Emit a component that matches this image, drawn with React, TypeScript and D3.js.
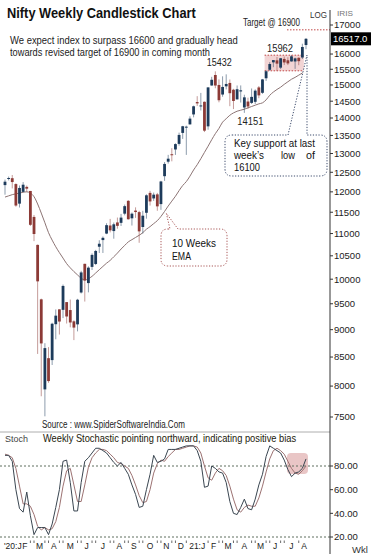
import * as d3 from "d3";
import { useLayoutEffect, useRef, useState } from "react";

// weekly Nifty candles, week ending 10 Jan 2020 .. 13 Aug 2021
const open = [12170, 12329, 12347, 12197, 11708, 12000, 12125, 12022, 11388, 10742, 9588, 7945, 8480, 8446, 9103, 9390, 9380, 9533, 9376, 9158, 9100, 9726, 10326, 9919, 10260, 10323, 10701, 10851, 10999, 11186, 11057, 11258, 11248, 11466, 11777, 11355, 11540, 11503, 11151, 11487, 11974, 11836, 11937, 11697, 12399, 12780, 12980, 13110, 13264, 13571, 13742, 13815, 14105, 14474, 14371, 14482, 13758, 14983, 15315, 15000, 14703, 14957, 15063, 14851, 14555, 14798, 14311, 14490, 14449, 14481, 14923, 14756, 15211, 15483, 15725, 15791, 15552, 15837, 15793, 15755, 15754, 15874, 15885, 16304];
const high = [12311, 12389, 12430, 12216, 12160, 12247, 12159, 12023, 11434, 10751, 9602, 8749, 8678, 9131, 9388, 9390, 9889, 9533, 9584, 9178, 9598, 10177, 10328, 10272, 10553, 10631, 10847, 10933, 11239, 11341, 11256, 11373, 11460, 11686, 11794, 11493, 11618, 11535, 11535, 11939, 12025, 11982, 11974, 12280, 12770, 12963, 13146, 13280, 13579, 13773, 13777, 14049, 14367, 14653, 14753, 14491, 14925, 15257, 15432, 15176, 15273, 15336, 15172, 14879, 14984, 14985, 14697, 14607, 14890, 14863, 14967, 15189, 15469, 15733, 15800, 15901, 15870, 15915, 15893, 15962, 15881, 15893, 16349, 16543];
const low = [11929, 12290, 12087, 11633, 11614, 11990, 12003, 11175, 10827, 8555, 7832, 7511, 8055, 8360, 8821, 8909, 9220, 9116, 9044, 8806, 8968, 9706, 9544, 9729, 10194, 10299, 10562, 10562, 10985, 11026, 10882, 11112, 11175, 11426, 11325, 11185, 11366, 10790, 11000, 11347, 11661, 11775, 11535, 11557, 12279, 12730, 12790, 12962, 13216, 13402, 12962, 13811, 14020, 14357, 14222, 13596, 13662, 14977, 14897, 14467, 14635, 14862, 14350, 14264, 14555, 14459, 14151, 14273, 14416, 14417, 14591, 14723, 15127, 15450, 15566, 15450, 15505, 15636, 15636, 15749, 15513, 15632, 15834, 16162];
const close = [12257, 12352, 12248, 11662, 12098, 12180, 12080, 11202, 10989, 9955, 8745, 8660, 8084, 9112, 9267, 9154, 9860, 9251, 9136, 9039, 9580, 10142, 9972, 10244, 10520, 10607, 10768, 10902, 11194, 11073, 11214, 11178, 11372, 11647, 11333, 11465, 11505, 11050, 11417, 11914, 11762, 11930, 11642, 12263, 12720, 12860, 12969, 13258, 13514, 13761, 13749, 13982, 14347, 14434, 14372, 13635, 14924, 15163, 14982, 14529, 14938, 15031, 14744, 14507, 14867, 14834, 14617, 14341, 14631, 14823, 14677, 15175, 15436, 15670, 15799, 15683, 15860, 15722, 15690, 15924, 15856, 15763, 16238, 16517];

// 10 week EMA as plotted
const ema10 = [11870, 11900, 11930, 11950, 11970, 11990, 12000, 11970, 11880, 11700, 11480, 11250, 11020, 10850, 10700, 10570, 10450, 10330, 10240, 10160, 10090, 10020, 9985, 10010, 10060, 10130, 10200, 10270, 10340, 10400, 10480, 10560, 10650, 10730, 10810, 10860, 10910, 10960, 11020, 11100, 11160, 11230, 11300, 11400, 11520, 11650, 11770, 11890, 12030, 12160, 12260, 12400, 12560, 12700, 12860, 13030, 13200, 13380, 13550, 13700, 13880, 13980, 14080, 14150, 14200, 14230, 14260, 14300, 14340, 14380, 14420, 14450, 14540, 14680, 14780, 14860, 14930, 15020, 15100, 15180, 15240, 15310, 15380, 15440];

// weekly stochastic %K and %D
const stochK = [89, 89, 84, 60, 44, 41, 58, 38, 22, 28, 28, 28, 22, 31, 45, 60, 84, 85, 66, 42, 42, 66, 84, 87, 91, 95, 95, 93, 91, 87, 83, 80, 83, 78, 73, 64, 56, 45, 46, 60, 73, 89, 83, 84, 86, 94, 94, 94, 95, 96, 97, 97, 97, 93, 84, 62, 63, 80, 78, 75, 74, 66, 50, 40, 39, 45, 52, 44, 43, 52, 64, 73, 88, 97, 95, 93, 91, 85, 77, 71, 74, 75, 78, 86];
const stochD = [90, 89, 87, 78, 63, 48, 48, 46, 39, 29, 26, 28, 26, 27, 33, 45, 63, 76, 78, 64, 50, 50, 64, 79, 87, 91, 94, 94, 93, 90, 87, 83, 82, 80, 78, 72, 64, 55, 49, 50, 60, 74, 82, 85, 84, 88, 91, 94, 94, 95, 96, 97, 97, 96, 91, 80, 70, 68, 74, 78, 76, 72, 63, 52, 43, 41, 45, 47, 46, 46, 53, 63, 75, 86, 93, 95, 93, 90, 84, 78, 74, 73, 76, 80];

const priceTicks = [17000, 16000, 15500, 15000, 14500, 14000, 13500, 13000, 12500, 12000, 11500, 11000, 10500, 10000, 9500, 9000, 8500, 8000, 7500];
const stochTicks = [80, 60, 40, 20];
const monthLetters = ["J", "F", "M", "A", "M", "J", "J", "A", "S", "O", "N", "D"];

const lastPrice = 16517;
const targetLevel = 16900;
const rangeTop = 15962;
const rangeBottom = 15450;

const W = 371;
const H = 554;
const AXIS_X = 330;
const UP = "#1d3b5b";
const DOWN = "#8c3a36";
const SANS = "'Liberation Sans', Arial, sans-serif";

const weeks = d3.timeFriday.range(new Date(2020, 0, 10), new Date(2021, 7, 14));

const xs = d3.scaleLinear().domain([0, open.length - 1]).range([5, 306]);
const ys = d3.scaleLog().domain([7500, 17000]).range([417, 25]);
const ss = d3.scaleLinear().domain([20, 80]).range([537, 466]);

function callout(x0, y0, x1, y1, r, b0, b1, ax, ay) {
  return `M${x0 + r},${y0} L${b0},${y0} L${ax},${ay} L${b1},${y0} L${x1 - r},${y0} Q${x1},${y0} ${x1},${y0 + r} L${x1},${y1 - r} Q${x1},${y1} ${x1 - r},${y1} L${x0 + r},${y1} Q${x0},${y1} ${x0},${y1 - r} L${x0},${y0 + r} Q${x0},${y0} ${x0 + r},${y0} Z`;
}

// text squeezed horizontally to a given width (the original uses a narrow face)
function FitText({ x, y, width, anchor = "start", children, ...rest }) {
  const ref = useRef(null);
  const [k, setK] = useState(1);
  useLayoutEffect(() => {
    const n = ref.current ? ref.current.getComputedTextLength() : 0;
    if (n > 0) setK(width / n);
  }, [width, children]);
  return (
    <text ref={ref} transform={`translate(${x},${y}) scale(${k},1)`} textAnchor={anchor} {...rest}>
      {children}
    </text>
  );
}

export default function App() {
  const emaLine = d3.line().x((d, i) => xs(i)).y((d) => ys(d)).curve(d3.curveMonotoneX);
  const stochLine = d3.line().x((d, i) => xs(i)).y((d) => ss(d));

  // month labels centred on each month's weeks
  const months = d3.groups(weeks.map((d, i) => ({ d, i })), (e) => d3.timeFormat("%Y-%m")(e.d)).map(([, items]) => {
    const first = items[0].i;
    const last = items[items.length - 1].i;
    const m = items[0].d.getMonth();
    const y = items[0].d.getFullYear();
    let text = monthLetters[m];
    if (m === 0) text = y === 2020 ? "'20:J" : "21:J";
    const w = text.length * 4.6;
    const start = first === 0;
    const cx = start ? xs(0) - 1 + w / 2 : xs((first + last) / 2);
    return { text, cx, w, start };
  });
  const weekTicks = weeks.map((d, i) => xs(i)).filter((x) => !months.some((m) => x > m.cx - m.w / 2 - 1.5 && x < m.cx + m.w / 2 + 1.5));

  const bx0 = xs(72) - 1.5;
  const bx1 = xs(82) + 1.5;

  return (
    <div style={{ position: "absolute", left: 0, top: 0 }}>
      <svg width={W} height={H} style={{ display: "block", background: "#fff" }} fontFamily={SANS}>
        <rect width={W} height={H} fill="#fff" />

        {/* title and notes */}
        <FitText x={7} y={18} width={189} fontSize={14.5} fontWeight="bold" fill="#111">Nifty Weekly Candlestick Chart</FitText>
        <FitText x={10} y={44} width={228} fontSize={11} fill="#222">We expect index to surpass 16600 and gradually head</FitText>
        <FitText x={10} y={56} width={200} fontSize={11} fill="#222">towards revised target of 16900 in coming month</FitText>
        <FitText x={243} y={26} width={57} fontSize={11} fill="#222">Target @ 16900</FitText>
        <line x1={287} x2={AXIS_X} y1={ys(targetLevel) + 2} y2={ys(targetLevel) + 2} stroke="#c04848" strokeWidth={1} strokeDasharray="1.5,1.5" />
        <FitText x={310} y={18} width={17} fontSize={9} fill="#333">LOG</FitText>
        <FitText x={337} y={16} width={16} fontSize={8} fill="#777">IRIS</FitText>

        {/* consolidation range */}
        <rect x={bx0} y={ys(rangeTop)} width={bx1 - bx0} height={ys(rangeBottom) - ys(rangeTop)} fill="#eec6c6" fillOpacity={0.75} />
        <line x1={bx0} x2={bx1} y1={ys(rangeTop)} y2={ys(rangeTop)} stroke="#c04848" strokeDasharray="1.5,1.5" />
        <line x1={bx0} x2={bx1} y1={ys(rangeBottom)} y2={ys(rangeBottom)} stroke="#c04848" strokeDasharray="1.5,1.5" />

        {/* EMA */}
        <path d={emaLine(ema10)} fill="none" stroke="#8c7474" strokeWidth={1} />

        {/* candles */}
        {open.map((o, i) => {
          const c = close[i];
          const col = c >= o ? UP : DOWN;
          const x = xs(i);
          const top = ys(Math.max(o, c));
          const h = Math.max(1, Math.abs(ys(o) - ys(c)));
          return (
            <g key={i}>
              <line x1={x} x2={x} y1={ys(high[i])} y2={ys(low[i])} stroke={col} strokeOpacity={0.5} strokeWidth={1} />
              <rect x={x - 1.4} y={top} width={2.8} height={h} fill={col} />
            </g>
          );
        })}

        {/* price labels */}
        <FitText x={xs(58) + 4} y={ys(high[58]) - 5} width={25} anchor="middle" fontSize={11} fill="#222">15432</FitText>
        <FitText x={xs(66) + 6} y={ys(low[66]) + 12} width={26} anchor="middle" fontSize={11} fill="#222">14151</FitText>
        <FitText x={280} y={ys(rangeTop) - 3} width={26} anchor="middle" fontSize={11} fill="#222">15962</FitText>

        {/* callouts */}
        <path d={callout(225, 135, 327, 176, 7, 288, 307, 307, ys(low[82]) - 4)} fill="#fff" stroke="#3b4a6b" strokeWidth={1} strokeDasharray="1.2,1.6" />
        <FitText x={234} y={147} width={81} fontSize={11} fill="#111">Key support at last</FitText>
        <FitText x={234} y={159} width={30} fontSize={11} fill="#111">week’s</FitText>
        <FitText x={281} y={159} width={14} fontSize={11} fill="#111">low</FitText>
        <FitText x={306} y={159} width={9} fontSize={11} fill="#111">of</FitText>
        <FitText x={234} y={171} width={26} fontSize={11} fill="#111">16100</FitText>

        <path d={callout(161, 229, 227, 266, 7, 170, 178, xs(44.5), ys(ema10[44]) + 2)} fill="#fff" stroke="#a85656" strokeWidth={1} strokeDasharray="1.2,1.6" />
        <FitText x={172} y={247} width={44} fontSize={11.5} fill="#111">10  Weeks</FitText>
        <FitText x={172} y={260} width={19} fontSize={11.5} fill="#111">EMA</FitText>

        <FitText x={42} y={428} width={143} fontSize={10} fill="#222">Source : www.SpiderSoftwareIndia.Com</FitText>
        <line x1={0} x2={AXIS_X} y1={432} y2={432} stroke="#999" strokeWidth={0.8} />

        {/* stochastic panel */}
        <FitText x={5} y={442} width={23} fontSize={9.5} fill="#444">Stoch</FitText>
        <FitText x={43} y={442} width={253} fontSize={11} fill="#22200a">Weekly Stochastic pointing northward, indicating positive bias</FitText>
        <rect x={287} y={453} width={21} height={21} rx={4} fill="#e4b8b8" fillOpacity={0.8} />
        {[80, 20].map((v) => (
          <line key={v} x1={0} x2={AXIS_X} y1={ss(v)} y2={ss(v)} stroke="#5f6f5f" strokeWidth={1} strokeDasharray="2,2" />
        ))}
        <path d={stochLine(stochD)} fill="none" stroke="#9c7272" strokeWidth={1} />
        <path d={stochLine(stochK)} fill="none" stroke="#3a4651" strokeWidth={1} />

        {/* right axis */}
        <line x1={AXIS_X} x2={AXIS_X} y1={10} y2={H} stroke="#333" strokeWidth={1} />
        {priceTicks.map((t) => (
          <g key={t}>
            <line x1={AXIS_X} x2={AXIS_X + 3} y1={ys(t)} y2={ys(t)} stroke="#333" />
            <text x={AXIS_X + 4} y={ys(t)} dy="0.35em" fontSize={9.5} fill="#222">{t}</text>
          </g>
        ))}
        {stochTicks.map((t) => (
          <g key={t}>
            <line x1={AXIS_X} x2={AXIS_X + 3} y1={ss(t)} y2={ss(t)} stroke="#333" />
            <text x={AXIS_X + 4} y={ss(t)} dy="0.35em" fontSize={9.5} fill="#222">{t.toFixed(2)}</text>
          </g>
        ))}
        <rect x={AXIS_X + 1} y={ys(lastPrice) - 6.5} width={W - AXIS_X - 1} height={13} fill="#000" />
        <text x={AXIS_X + 3} y={ys(lastPrice)} dy="0.35em" fontSize={9.5} fill="#fff">{lastPrice.toFixed(1)}</text>

        {/* month axis */}
        {months.map((m, i) => (
          <text key={i} x={m.start ? xs(0) - 1 : m.cx} y={548.5} fontSize={8.5} fill="#222" textAnchor={m.start ? "start" : "middle"}>{m.text}</text>
        ))}
        {weekTicks.map((x, i) => (
          <line key={i} x1={x} x2={x} y1={540.5} y2={543} stroke="#444" strokeWidth={0.8} />
        ))}
        <text x={352} y={553} fontSize={9.5} fill="#333">Wkl</text>
      </svg>
    </div>
  );
}
